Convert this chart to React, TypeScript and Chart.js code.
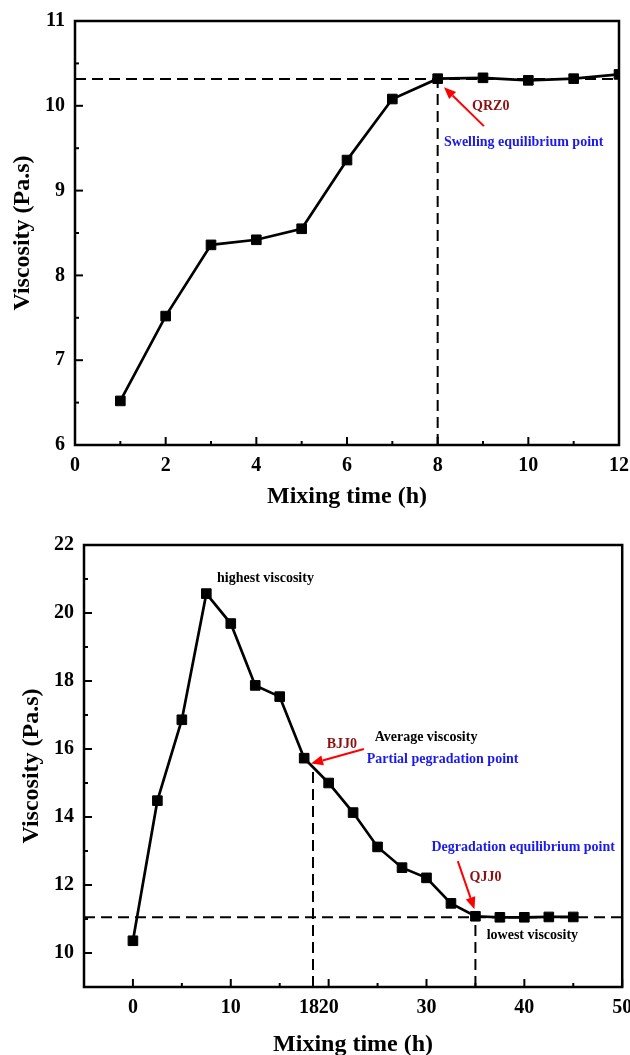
import React, { useEffect, useRef } from 'react';
import { Chart, registerables } from 'chart.js';

Chart.register(...registerables);

const FONT = '"Liberation Serif", "Times New Roman", serif';

// ---------- Top chart: swelling ----------
const swellTime = [1, 2, 3, 4, 5, 6, 7, 8, 9, 10, 11, 12];
const swellViscosity = [6.52, 7.52, 8.36, 8.42, 8.55, 9.36, 10.08, 10.32, 10.33, 10.3, 10.32, 10.37];
const swellRefLineH = [
  { x: 0, y: 10.315 },
  { x: 12, y: 10.315 },
];
const swellRefLineV = [
  { x: 8, y: 6 },
  { x: 8, y: 10.315 },
];
const topXTickLabels = [0, 2, 4, 6, 8, 10, 12];
const topXMajor = [0, 2, 4, 6, 8, 10, 12];
const topXMinor = [1, 3, 5, 7, 9, 11];
const topYTickLabels = [6, 7, 8, 9, 10, 11];
const topYMajor = [6, 7, 8, 9, 10, 11];
const topYMinor = [6.5, 7.5, 8.5, 9.5, 10.5];

// ---------- Bottom chart: degradation ----------
const degTime = [0, 2.5, 5, 7.5, 10, 12.5, 15, 17.5, 20, 22.5, 25, 27.5, 30, 32.5, 35, 37.5, 40, 42.5, 45];
const degViscosity = [10.36, 14.48, 16.86, 20.57, 19.69, 17.87, 17.54, 15.73, 15.0, 14.13, 13.12, 12.51, 12.21, 11.46, 11.08, 11.05, 11.05, 11.06, 11.06];
const degRefLineH = [
  { x: -5, y: 11.05 },
  { x: 50, y: 11.05 },
];
const degRefLineV1 = [
  { x: 18.4, y: 9 },
  { x: 18.4, y: 15.5 },
];
const degRefLineV2 = [
  { x: 35, y: 9 },
  { x: 35, y: 11.08 },
];
const botXTickLabels = [0, 10, 18, 20, 30, 40, 50];
const botXMajor = [0, 10, 20, 30, 40, 50];
const botXMinor = [5, 15, 25, 35, 45];
const botYTickLabels = [10, 12, 14, 16, 18, 20, 22];
const botYMajor = [10, 12, 14, 16, 18, 20, 22];
const botYMinor = [11, 13, 15, 17, 19, 21];

const DARKRED = '#8b1010';
const BLUE = '#1a1aee';
const RED = '#ff0000';

const topNotes = [
  { text: 'QRZ0', x: 8.76, y: 9.99, color: DARKRED },
  { text: 'Swelling equilibrium point', x: 8.14, y: 9.57, color: BLUE },
];
const topArrows = [{ from: [9.02, 9.76], to: [8.14, 10.22] }];

const botNotes = [
  { text: 'highest viscosity', x: 8.6, y: 21.02, color: '#000' },
  { text: 'BJJ0', x: 19.8, y: 16.13, color: DARKRED },
  { text: 'Average viscosity', x: 24.7, y: 16.33, color: '#000' },
  { text: 'Partial pegradation point', x: 23.9, y: 15.68, color: BLUE },
  { text: 'Degradation equilibrium point', x: 30.5, y: 13.12, color: BLUE },
  { text: 'QJJ0', x: 34.4, y: 12.23, color: DARKRED },
  { text: 'lowest viscosity', x: 36.15, y: 10.52, color: '#000' },
];
const botArrows = [
  { from: [23.6, 16.0], to: [18.2, 15.57] },
  { from: [33.2, 12.7], to: [34.9, 11.29] },
];

type Cfg = {
  xMajor: number[];
  xMinor: number[];
  yMajor: number[];
  yMinor: number[];
  notes: { text: string; x: number; y: number; color: string }[];
  arrows: { from: number[]; to: number[] }[];
  xTitleOffset: number;
  yTitleOffset: number;
};

function decorPlugin(cfg: Cfg) {
  return {
    id: 'decor',
    afterDatasetsDraw(chart: any) {
      const { ctx, chartArea: a, scales } = chart;
      const xs = scales.x;
      const ys = scales.y;
      ctx.save();
      ctx.strokeStyle = '#000';
      ctx.lineCap = 'butt';
      // inward ticks
      ctx.lineWidth = 2;
      const xt = (v: number, len: number) => {
        const px = xs.getPixelForValue(v);
        ctx.beginPath();
        ctx.moveTo(px, a.bottom);
        ctx.lineTo(px, a.bottom - len);
        ctx.stroke();
      };
      const yt = (v: number, len: number) => {
        const py = ys.getPixelForValue(v);
        ctx.beginPath();
        ctx.moveTo(a.left, py);
        ctx.lineTo(a.left + len, py);
        ctx.stroke();
      };
      cfg.xMajor.forEach((v) => xt(v, 8));
      cfg.xMinor.forEach((v) => xt(v, 4));
      cfg.yMajor.forEach((v) => yt(v, 8));
      cfg.yMinor.forEach((v) => yt(v, 4));
      // frame
      ctx.lineWidth = 2.5;
      ctx.strokeRect(a.left, a.top, a.right - a.left, a.bottom - a.top);

      // annotations
      ctx.font = `bold 14px ${FONT}`;
      ctx.textAlign = 'left';
      ctx.textBaseline = 'middle';
      cfg.notes.forEach((n) => {
        ctx.fillStyle = n.color;
        ctx.fillText(n.text, xs.getPixelForValue(n.x), ys.getPixelForValue(n.y));
      });
      // arrows
      cfg.arrows.forEach((ar) => {
        const x1 = xs.getPixelForValue(ar.from[0]);
        const y1 = ys.getPixelForValue(ar.from[1]);
        const x2 = xs.getPixelForValue(ar.to[0]);
        const y2 = ys.getPixelForValue(ar.to[1]);
        const ang = Math.atan2(y2 - y1, x2 - x1);
        const head = 12;
        const hw = 5;
        const bx = x2 - head * Math.cos(ang);
        const by = y2 - head * Math.sin(ang);
        ctx.strokeStyle = RED;
        ctx.fillStyle = RED;
        ctx.lineWidth = 2;
        ctx.beginPath();
        ctx.moveTo(x1, y1);
        ctx.lineTo(bx, by);
        ctx.stroke();
        ctx.beginPath();
        ctx.moveTo(x2, y2);
        ctx.lineTo(bx + hw * Math.sin(ang), by - hw * Math.cos(ang));
        ctx.lineTo(bx - hw * Math.sin(ang), by + hw * Math.cos(ang));
        ctx.closePath();
        ctx.fill();
      });

      // axis titles
      ctx.fillStyle = '#000';
      ctx.font = `bold 24px ${FONT}`;
      ctx.textAlign = 'center';
      ctx.textBaseline = 'middle';
      ctx.fillText('Mixing time (h)', (a.left + a.right) / 2, a.bottom + cfg.xTitleOffset);
      ctx.save();
      ctx.translate(a.left - cfg.yTitleOffset, (a.top + a.bottom) / 2);
      ctx.rotate(-Math.PI / 2);
      ctx.fillText('Viscosity (Pa.s)', 0, 0);
      ctx.restore();
      ctx.restore();
    },
  };
}

function makeChart(
  canvas: HTMLCanvasElement,
  opts: {
    data: { x: number; y: number }[];
    refs: { x: number; y: number }[][];
    xMin: number;
    xMax: number;
    yMin: number;
    yMax: number;
    xLabels: number[];
    yLabels: number[];
    pad: { top: number; right: number };
    yWidth: number;
    xHeight: number;
    cfg: Cfg;
  }
) {
  const tickFont = { family: FONT, size: 20, weight: 'bold' as const };
  const datasets: any[] = [
    {
      data: opts.data,
      showLine: true,
      borderColor: '#000',
      borderWidth: 2.7,
      pointStyle: 'rect',
      pointRadius: 6.8,
      pointBackgroundColor: '#000',
      pointBorderColor: '#000',
      pointBorderWidth: 1,
    },
    ...opts.refs.map((r) => ({
      data: r,
      showLine: true,
      borderColor: '#000',
      borderWidth: 2,
      borderDash: [11, 6],
      pointRadius: 0,
    })),
  ];
  return new Chart(canvas, {
    type: 'scatter',
    data: { datasets },
    options: {
      responsive: false,
      animation: false,
      devicePixelRatio: 1,
      layout: { padding: { top: opts.pad.top, right: opts.pad.right, left: 0, bottom: 0 } },
      plugins: { legend: { display: false }, tooltip: { enabled: false } },
      scales: {
        x: {
          type: 'linear',
          min: opts.xMin,
          max: opts.xMax,
          grid: { display: false, drawTicks: false },
          border: { display: false },
          afterBuildTicks: (s: any) => {
            s.ticks = opts.xLabels.map((v) => ({ value: v }));
          },
          ticks: {
            autoSkip: false,
            maxRotation: 0,
            padding: 9,
            color: '#000',
            font: tickFont,
            callback: (v: any) => String(v),
          },
          afterFit: (s: any) => {
            s.height = opts.xHeight;
            s.paddingLeft = 0;
            s.paddingRight = 0;
          },
        },
        y: {
          type: 'linear',
          min: opts.yMin,
          max: opts.yMax,
          grid: { display: false, drawTicks: false },
          border: { display: false },
          afterBuildTicks: (s: any) => {
            s.ticks = opts.yLabels.map((v) => ({ value: v }));
          },
          ticks: {
            autoSkip: false,
            padding: 10,
            color: '#000',
            font: tickFont,
            callback: (v: any) => String(v),
          },
          afterFit: (s: any) => {
            s.width = opts.yWidth;
            s.paddingTop = 0;
            s.paddingBottom = 0;
          },
        },
      },
    } as any,
    plugins: [decorPlugin(opts.cfg)],
  });
}

export default function App() {
  const topRef = useRef<HTMLCanvasElement>(null);
  const botRef = useRef<HTMLCanvasElement>(null);

  useEffect(() => {
    const c1 = makeChart(topRef.current!, {
      data: swellTime.map((t, i) => ({ x: t, y: swellViscosity[i] })),
      refs: [swellRefLineH, swellRefLineV],
      xMin: 0,
      xMax: 12,
      yMin: 6,
      yMax: 11,
      xLabels: topXTickLabels,
      yLabels: topYTickLabels,
      pad: { top: 21, right: 11 },
      yWidth: 75,
      xHeight: 82,
      cfg: {
        xMajor: topXMajor,
        xMinor: topXMinor,
        yMajor: topYMajor,
        yMinor: topYMinor,
        notes: topNotes,
        arrows: topArrows,
        xTitleOffset: 52,
        yTitleOffset: 52,
      },
    });
    const c2 = makeChart(botRef.current!, {
      data: degTime.map((t, i) => ({ x: t, y: degViscosity[i] })),
      refs: [degRefLineH, degRefLineV1, degRefLineV2],
      xMin: -5,
      xMax: 50,
      yMin: 9,
      yMax: 22,
      xLabels: botXTickLabels,
      yLabels: botYTickLabels,
      pad: { top: 18, right: 7 },
      yWidth: 84,
      xHeight: 68,
      cfg: {
        xMajor: botXMajor,
        xMinor: botXMinor,
        yMajor: botYMajor,
        yMinor: botYMinor,
        notes: botNotes,
        arrows: botArrows,
        xTitleOffset: 58,
        yTitleOffset: 52,
      },
    });
    return () => {
      c1.destroy();
      c2.destroy();
    };
  }, []);

  return (
    <div style={{ position: 'absolute', left: 0, top: 0, width: 630, height: 1055, background: '#fff', overflow: 'hidden' }}>
      <canvas ref={topRef} width={630} height={527} style={{ position: 'absolute', left: 0, top: 0, width: 630, height: 527 }} />
      <canvas ref={botRef} width={630} height={528} style={{ position: 'absolute', left: 0, top: 527, width: 630, height: 528 }} />
    </div>
  );
}
